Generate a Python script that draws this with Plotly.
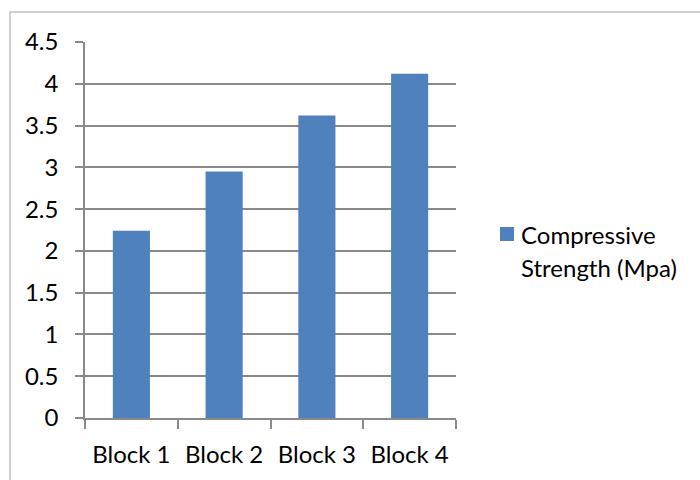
import plotly.graph_objects as go

# Data
categories = ["Block 1", "Block 2", "Block 3", "Block 4"]
strength_mpa = [2.24, 2.95, 3.62, 4.12]
legend_lines = ["Compressive", "Strength (Mpa)"]
y_ticks = [0, 0.5, 1, 1.5, 2, 2.5, 3, 3.5, 4, 4.5]
y_tick_text = ["0", "0.5", "1", "1.5", "2", "2.5", "3", "3.5", "4", "4.5"]

# Layout constants (pixels)
W, H = 700, 480
L, R, T, B = 85, 456, 42, 418
BAR_COLOR = "#4F81BD"
GRID = "#898989"
FONT = "Lato"
FS = 24

pw, ph = R - L, B - T


def px_x(x):
    return (x - L) / pw


def px_y(y):
    return (B - y) / ph


fig = go.Figure()
fig.add_trace(go.Bar(
    x=categories,
    y=strength_mpa,
    name=" ".join(legend_lines),
    marker=dict(color=BAR_COLOR, line=dict(width=0)),
    showlegend=False,
))

fig.update_layout(
    width=W, height=H,
    margin=dict(l=L, r=W - R, t=T, b=H - B, pad=0),
    paper_bgcolor="white",
    plot_bgcolor="white",
    bargap=0.6,
    font=dict(family=FONT, size=FS, color="#000000"),
    showlegend=False,
)

fig.update_xaxes(
    type="category",
    showgrid=False,
    showline=True, linecolor=GRID, linewidth=1.5,
    ticks="outside", tickson="boundaries", ticklen=9, tickcolor=GRID, tickwidth=1.5,
    ticklabelstandoff=14,
    tickfont=dict(family=FONT, size=FS, color="#000000"),
    zeroline=False,
)

fig.update_yaxes(
    range=[0, 4.5],
    tickvals=y_ticks, ticktext=y_tick_text,
    showgrid=True, gridcolor=GRID, gridwidth=1.5,
    showline=True, linecolor=GRID, linewidth=1.5,
    ticks="outside", ticklen=8, tickcolor=GRID, tickwidth=1.5,
    ticklabelstandoff=12,
    tickfont=dict(family=FONT, size=FS, color="#000000"),
    zeroline=False,
)

# Outer chart frame (top and left edges)
frame = dict(color="#BFBFBF", width=1.5)
fig.add_shape(type="line", xref="paper", yref="paper",
              x0=px_x(10), x1=px_x(W + 5), y0=px_y(12), y1=px_y(12), line=frame)
fig.add_shape(type="line", xref="paper", yref="paper",
              x0=px_x(10), x1=px_x(10), y0=px_y(12), y1=px_y(H + 5), line=frame)

# Legend: colour key and two-line label
fig.add_shape(type="rect", xref="paper", yref="paper",
              x0=px_x(500), x1=px_x(514), y0=px_y(227), y1=px_y(241),
              fillcolor=BAR_COLOR, line=dict(width=0))
for i, line in enumerate(legend_lines):
    fig.add_annotation(
        xref="paper", yref="paper",
        x=px_x(519), y=px_y(234 + 33 * i),
        xanchor="left", yanchor="middle",
        text=line, showarrow=False,
        font=dict(family=FONT, size=FS, color="#000000"),
    )

fig.write_html("out.html")
